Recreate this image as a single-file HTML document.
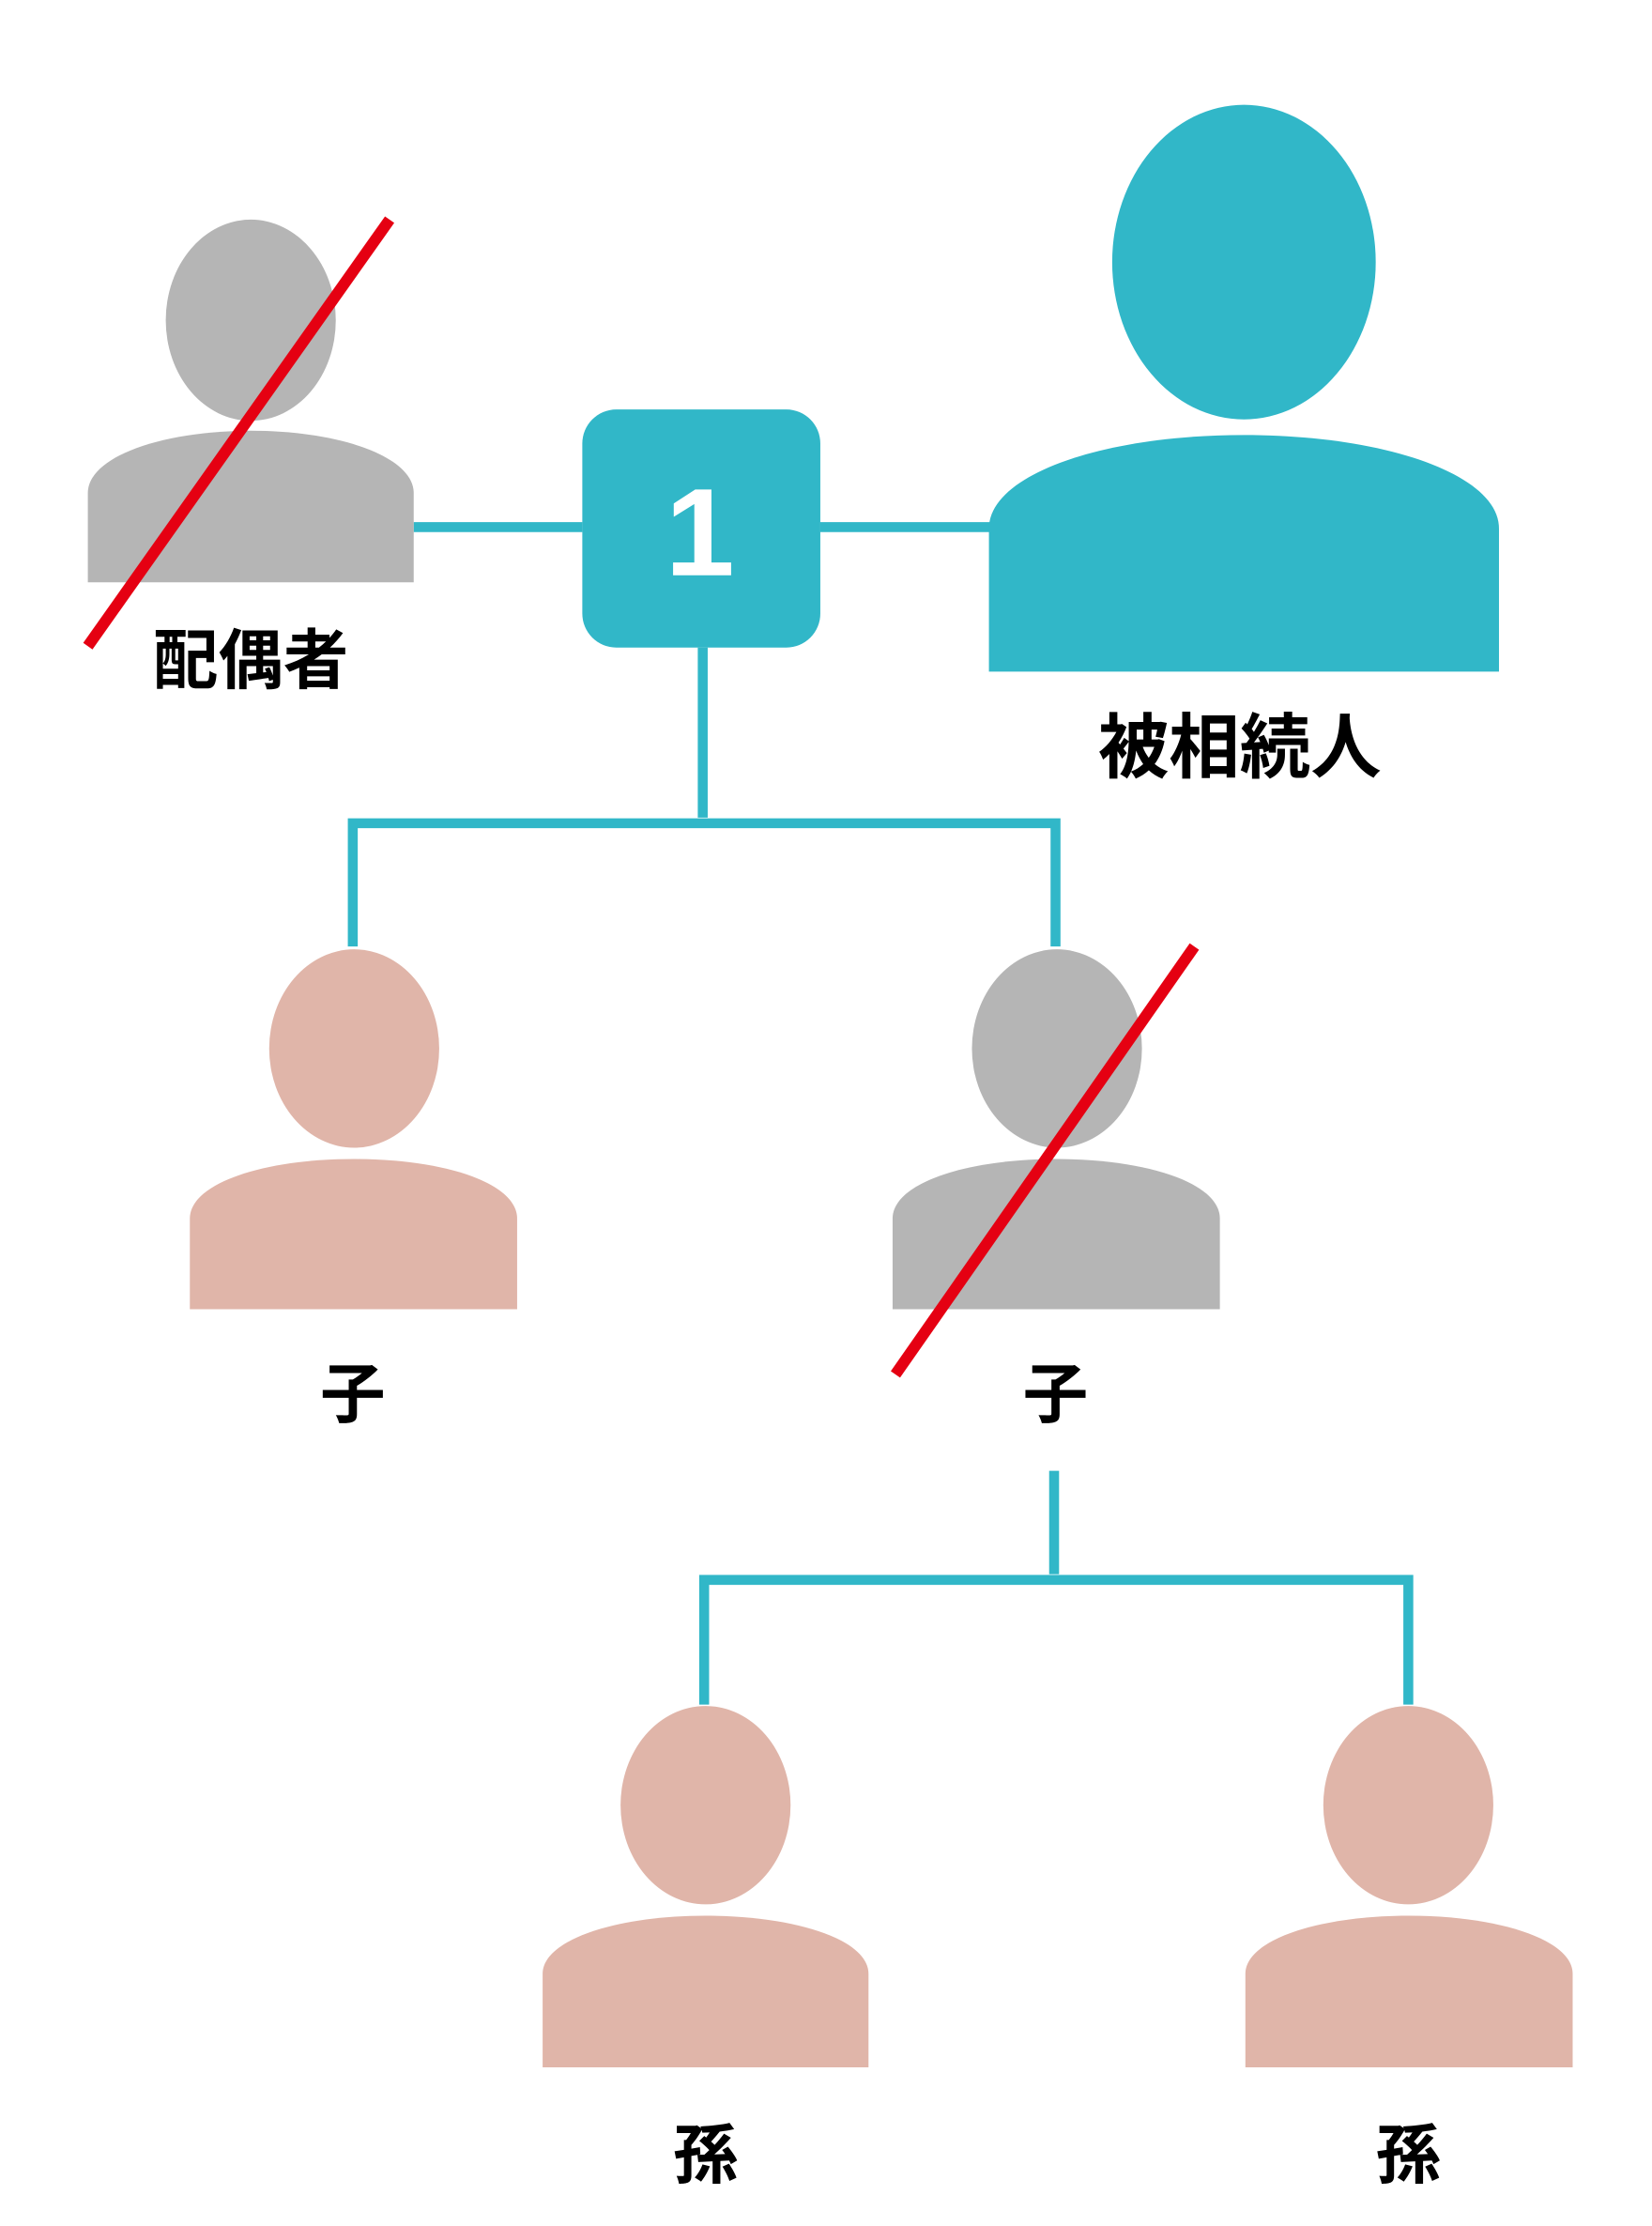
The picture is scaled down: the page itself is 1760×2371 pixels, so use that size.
<!DOCTYPE html>
<html><head><meta charset="utf-8"><style>
html,body{margin:0;padding:0;background:#fff;}
svg{display:block;}
text{font-family:"Liberation Sans","Noto Sans CJK JP",sans-serif;font-weight:bold;}
</style></head><body>
<svg width="1760" height="2371" viewBox="0 0 1166 1571" preserveAspectRatio="none" xmlns="http://www.w3.org/2000/svg">
<rect width="1166" height="1571" fill="#fff"/>
<g fill="none" stroke="#31b7c8" stroke-width="7">
<line x1="292" y1="372" x2="411" y2="372"/>
<line x1="579" y1="372" x2="700" y2="372"/>
<line x1="496" y1="457" x2="496" y2="577"/>
<polyline points="249,668 249,581 745,581 745,668"/>
<line x1="744" y1="1038" x2="744" y2="1111"/>
<polyline points="497,1203 497,1115 994,1115 994,1203"/>
</g>
<!-- spouse -->
<ellipse cx="177" cy="226" rx="60" ry="71" fill="#b5b5b5"/>
<path d="M62 411 V348 C62 322 115 304 177 304 C239 304 292 322 292 348 V411 Z" fill="#b5b5b5"/>
<line x1="62" y1="456" x2="275" y2="155" stroke="#e50012" stroke-width="8"/>
<text x="177" y="482" font-size="46" text-anchor="middle" fill="#000">配偶者</text>
<!-- box -->
<rect x="411" y="289" width="168" height="168" rx="24" fill="#31b7c8"/>
<text x="494" y="406" font-size="88" text-anchor="middle" fill="#fff">1</text>
<!-- decedent -->
<ellipse cx="878" cy="185" rx="93" ry="111" fill="#31b7c8"/>
<path d="M698 474 V373 C698 335 778 307 878 307 C978 307 1058 335 1058 373 V474 Z" fill="#31b7c8"/>
<text x="875" y="545" font-size="50" text-anchor="middle" fill="#000">被相続人</text>
<!-- child 1 -->
<ellipse cx="250" cy="740" rx="60" ry="70" fill="#e0b5a9"/>
<path d="M134 924 V860 C134 835 186 818 250 818 C314 818 365 835 365 860 V924 Z" fill="#e0b5a9"/>
<text x="249" y="1000" font-size="46" text-anchor="middle" fill="#000">子</text>
<!-- child 2 -->
<ellipse cx="746" cy="740" rx="60" ry="70" fill="#b5b5b5"/>
<path d="M630 924 V860 C630 835 682 818 746 818 C810 818 861 835 861 860 V924 Z" fill="#b5b5b5"/>
<line x1="632" y1="970" x2="843" y2="668" stroke="#e50012" stroke-width="8"/>
<text x="745" y="1000" font-size="46" text-anchor="middle" fill="#000">子</text>
<!-- grandchildren -->
<ellipse cx="498" cy="1274" rx="60" ry="70" fill="#e0b5a9"/>
<path d="M383 1459 V1393 C383 1369 435 1352 498 1352 C562 1352 613 1369 613 1393 V1459 Z" fill="#e0b5a9"/>
<text x="498" y="1537" font-size="46" text-anchor="middle" fill="#000">孫</text>
<ellipse cx="994" cy="1274" rx="60" ry="70" fill="#e0b5a9"/>
<path d="M879 1459 V1393 C879 1369 931 1352 994 1352 C1058 1352 1110 1369 1110 1393 V1459 Z" fill="#e0b5a9"/>
<text x="994" y="1537" font-size="46" text-anchor="middle" fill="#000">孫</text>
</svg>
</body></html>
